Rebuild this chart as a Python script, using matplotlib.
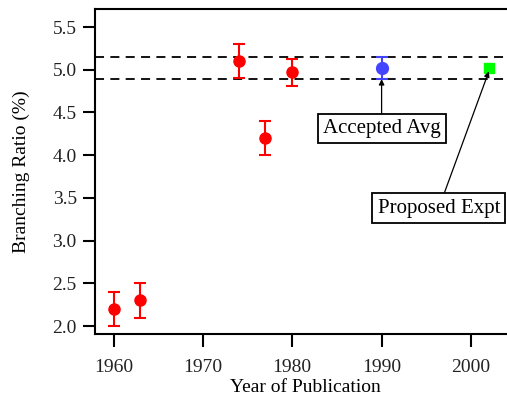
import numpy as np
import matplotlib
matplotlib.use('Agg')
import matplotlib.pyplot as plt

# measured branching ratios
years = [1960, 1963, 1974, 1977, 1980]
ratio = [2.2, 2.3, 5.1, 4.2, 4.97]
ratio_err = [0.2, 0.2, 0.2, 0.2, 0.16]

# accepted average and proposed experiment
avg_year = [1990]
avg_ratio = [5.02]
avg_err = [0.13]
prop_year = [2002]
prop_ratio = [5.02]

band = [avg_ratio[0] + avg_err[0], avg_ratio[0] - avg_err[0]]

plt.rcParams['font.family'] = ['Liberation Serif', 'DejaVu Serif']
plt.rcParams['font.size'] = 14

fig = plt.figure(figsize=(5.07, 3.95), dpi=100)
ax = fig.add_axes([0.187, 0.154, 0.83, 0.823])

for y in band:
    ax.axhline(y, color='black', linestyle=(0, (5, 3.5)), linewidth=1.3, zorder=1)

ax.errorbar(years, ratio, yerr=ratio_err, fmt='o', color='red', markersize=8,
            capsize=4.5, elinewidth=1.5, capthick=1.5, zorder=3)
ax.errorbar(avg_year, avg_ratio, yerr=avg_err, fmt='o', color='#4444ff', markersize=8.5,
            capsize=4.5, elinewidth=1.5, capthick=1.5, zorder=3)
ax.plot(prop_year, prop_ratio, 's', color='#00ff00', markersize=7, zorder=3)

box = dict(boxstyle='square,pad=0.25', facecolor='white', edgecolor='black', linewidth=1.3)
ax.annotate('Accepted Avg', xy=(avg_year[0], band[1]), xytext=(avg_year[0], 4.31),
            ha='center', va='center', bbox=box, fontsize=15,
            arrowprops=dict(arrowstyle='-|>', color='black', linewidth=0.9,
                            mutation_scale=8, shrinkA=0, shrinkB=0))
ax.annotate('Proposed Expt', xy=(prop_year[0], 4.98), xytext=(1996.4, 3.38),
            ha='center', va='center', bbox=box, fontsize=15,
            arrowprops=dict(arrowstyle='-|>', color='black', linewidth=0.9,
                            mutation_scale=8, shrinkA=0, shrinkB=0))

ax.set_xlim(1957.9, 2005)
ax.set_ylim(1.905, 5.71)
ax.set_xticks([1960, 1970, 1980, 1990, 2000])
ax.set_yticks([2.0, 2.5, 3.0, 3.5, 4.0, 4.5, 5.0, 5.5])
ax.yaxis.set_major_formatter(matplotlib.ticker.FormatStrFormatter('%.1f'))
ax.tick_params(direction='out', length=9, width=1.5, pad=4, colors='black', labelcolor='#222222')
ax.tick_params(axis='x', pad=9)
ax.spines['right'].set_visible(False)
for s in ['left', 'bottom', 'top']:
    ax.spines[s].set_linewidth(1.5)

ax.set_xlabel('Year of Publication', labelpad=2)
ax.set_ylabel('Branching Ratio (%)', labelpad=16)

fig.savefig('out.png', dpi=100)
